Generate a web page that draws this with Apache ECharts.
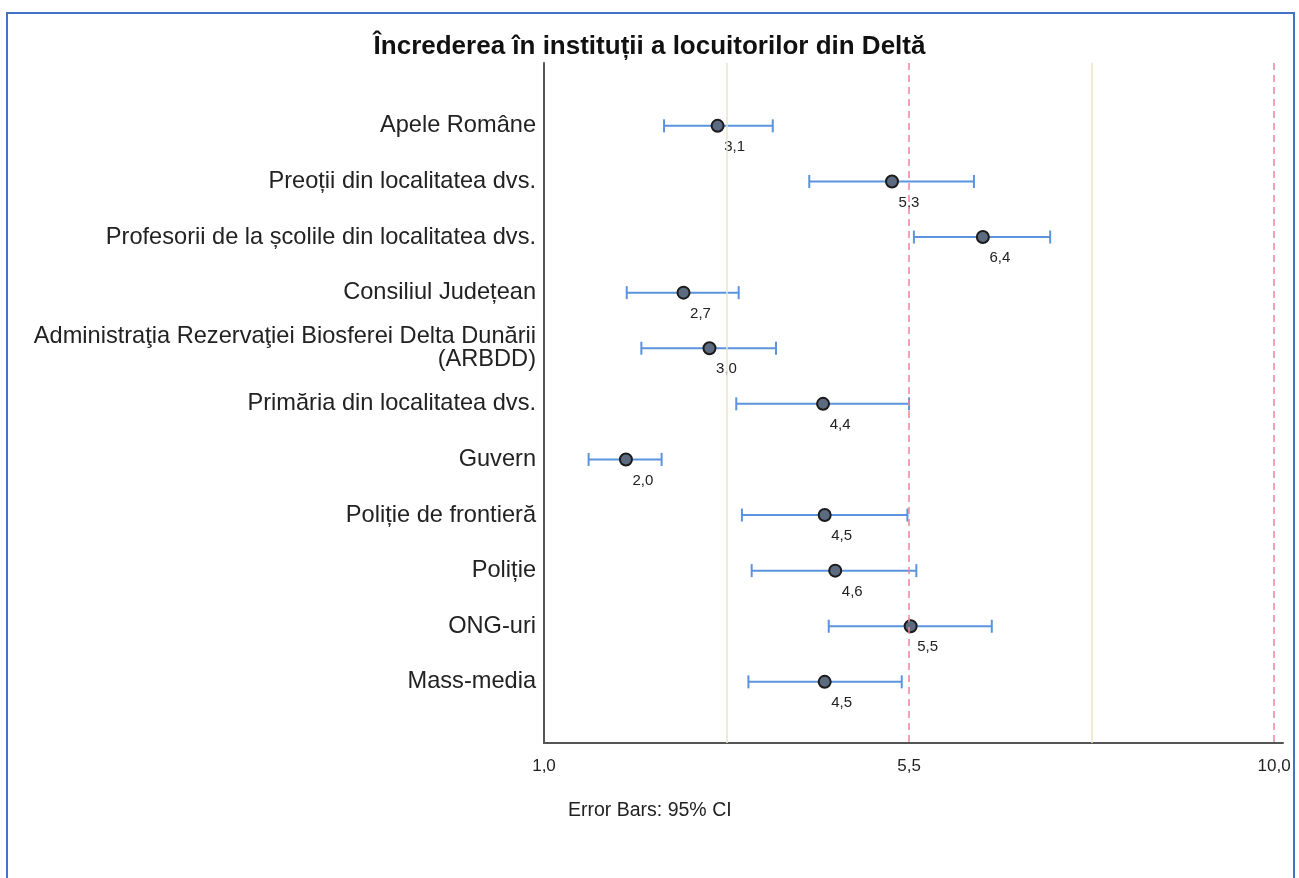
<!DOCTYPE html>
<html>
<head>
<meta charset="utf-8">
<script src="https://cdn.jsdelivr.net/npm/echarts@6/dist/echarts.min.js"></script>
<style>
html,body{margin:0;padding:0;background:#fff;}
#chart{width:1299px;height:878px;}
</style>
</head>
<body>
<div id="chart"></div>
<script>
// Data
const categories = [
  'Apele Române',
  'Preoții din localitatea dvs.',
  'Profesorii de la școlile din localitatea dvs.',
  'Consiliul Județean',
  'Administraţia Rezervaţiei Biosferei Delta Dunării\n(ARBDD)',
  'Primăria din localitatea dvs.',
  'Guvern',
  'Poliție de frontieră',
  'Poliție',
  'ONG-uri',
  'Mass-media'
];
const means = [3.14, 5.29, 6.41, 2.72, 3.04, 4.44, 2.01, 4.46, 4.59, 5.52, 4.46];
const ciLow = [2.48, 4.27, 5.56, 2.02, 2.20, 3.37, 1.55, 3.44, 3.56, 4.51, 3.52];
const ciHigh = [3.82, 6.30, 7.24, 3.40, 3.86, 5.50, 2.45, 5.48, 5.59, 6.52, 5.41];
const xTicks = [1.0, 5.5, 10.0];
const solidRefLines = [3.25, 7.75];
const dashedRefLines = [5.5, 10.0];

const fmt = v => v.toFixed(1).replace('.', ',');

const chart = echarts.init(document.getElementById('chart'), null, {renderer: 'canvas'});

const errData = categories.map((c, i) => [ciLow[i], ciHigh[i], i]);
const pointData = categories.map((c, i) => [means[i], i]);

const option = {
  backgroundColor: '#ffffff',
  animation: false,
  title: {
    text: 'Încrederea în instituții a locuitorilor din Deltă',
    left: 'center',
    top: 29,
    textStyle: {fontFamily: 'Liberation Sans, Arial, sans-serif', fontSize: 26, fontWeight: 'bold', color: '#111'}
  },
  grid: {left: 544, right: 16, top: 63, bottom: 135, containLabel: false},
  xAxis: {
    type: 'value',
    min: 1.0,
    max: 10.11,
    axisLine: {show: true, onZero: false, lineStyle: {color: '#555', width: 2}},
    axisTick: {show: false},
    splitLine: {show: false},
    axisLabel: {
      customValues: xTicks,
      formatter: v => fmt(v),
      margin: 15,
      fontFamily: 'Liberation Sans, Arial, sans-serif',
      fontSize: 17,
      color: '#222'
    }
  },
  yAxis: {
    type: 'value',
    inverse: true,
    min: -1.13,
    max: 11.1,
    axisLine: {show: true, onZero: false, lineStyle: {color: '#555', width: 2}},
    axisTick: {show: false},
    splitLine: {show: false},
    axisLabel: {
      customValues: categories.map((c, i) => i),
      formatter: v => categories[Math.round(v)] || '',
      margin: 8,
      align: 'right',
      fontFamily: 'Liberation Sans, Arial, sans-serif',
      fontSize: 23.6,
      lineHeight: 23,
      color: '#222'
    }
  },
  graphic: [
    {
      type: 'rect',
      shape: {x: 7, y: 13, width: 1287, height: 900},
      style: {fill: 'none', stroke: '#4472C4', lineWidth: 2},
      silent: true
    },
    {
      type: 'text',
      left: 568,
      top: 801,
      style: {text: 'Error Bars: 95% CI', fontFamily: 'Liberation Sans, Arial, sans-serif', fontSize: 19.5, fill: '#222'}
    }
  ],
  series: [
    {
      type: 'custom',
      z: 2,
      data: errData,
      renderItem: function (params, api) {
        const p1 = api.coord([api.value(0), api.value(2)]);
        const p2 = api.coord([api.value(1), api.value(2)]);
        const h = 6.5;
        const st = {stroke: '#5B93DE', lineWidth: 2};
        return {
          type: 'group',
          children: [
            {type: 'line', shape: {x1: p1[0], y1: p1[1], x2: p2[0], y2: p2[1]}, style: st},
            {type: 'line', shape: {x1: p1[0], y1: p1[1] - h, x2: p1[0], y2: p1[1] + h}, style: st},
            {type: 'line', shape: {x1: p2[0], y1: p2[1] - h, x2: p2[0], y2: p2[1] + h}, style: st}
          ]
        };
      },
      markLine: {
        silent: true,
        symbol: ['none', 'none'],
        label: {show: false},
        data: solidRefLines.map(v => ({xAxis: v, lineStyle: {color: '#E6E4C6', width: 1.5, type: 'solid'}}))
          .concat(dashedRefLines.map(v => ({xAxis: v, lineStyle: {color: '#F0849C', width: 1.5, type: [7, 5]}})))
      }
    },
    {
      type: 'scatter',
      z: 3,
      data: pointData,
      symbol: 'circle',
      symbolSize: 12,
      itemStyle: {color: '#5D6B80', borderColor: '#1b1b1b', borderWidth: 2, opacity: 1},
      label: {
        show: true,
        position: 'inside',
        offset: [17, 21],
        formatter: p => fmt(p.value[0]),
        fontFamily: 'Liberation Sans, Arial, sans-serif',
        fontSize: 15,
        color: '#222'
      }
    }
  ]
};
chart.setOption(option);
</script>
</body>
</html>
